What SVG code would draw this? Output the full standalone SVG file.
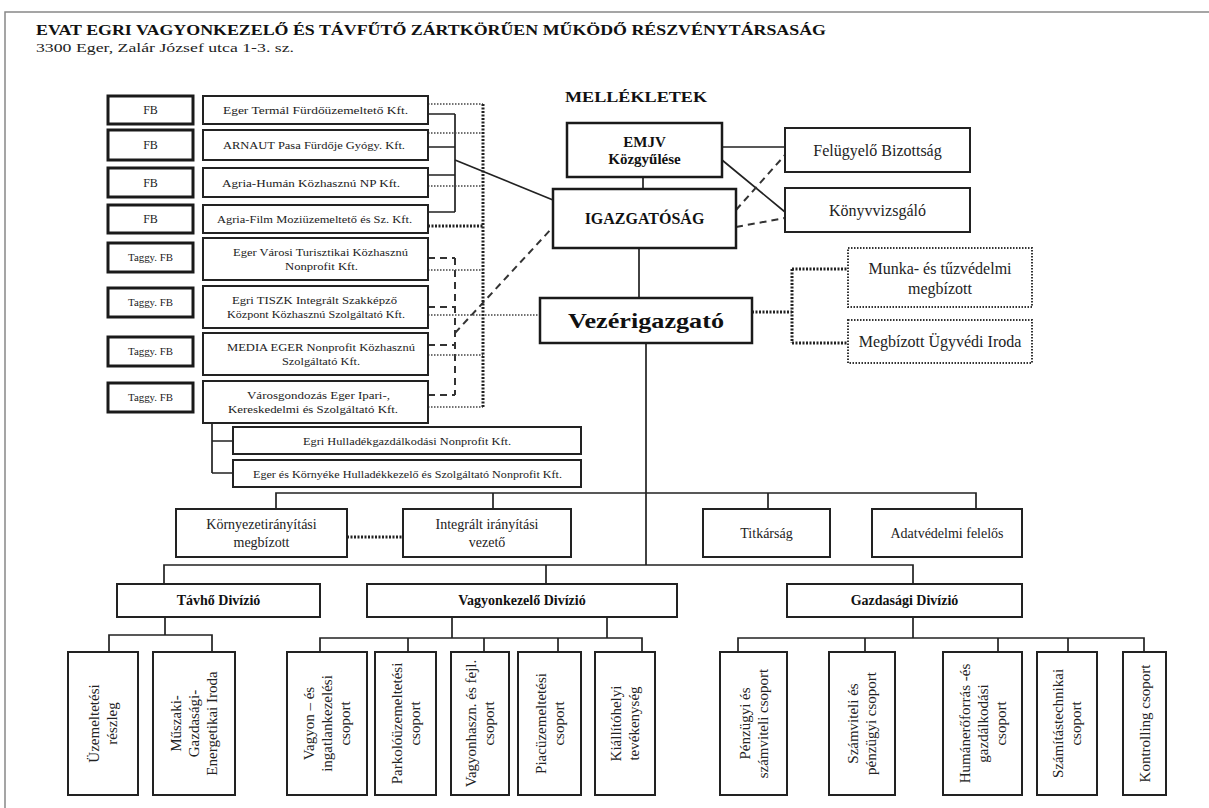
<svg xmlns="http://www.w3.org/2000/svg" width="1209" height="808" viewBox="0 0 1209 808">
<style>
.bg{fill:#fff}
.frame{stroke:#888;stroke-width:1.5;fill:none}
.box{fill:#fff;stroke:#222;stroke-width:2}
.bx3{fill:#fff;stroke:#1a1a1a;stroke-width:3}
.dbox{fill:#fff;stroke:#333;stroke-width:2;stroke-dasharray:1.5 1.5}
.t{font-family:"Liberation Serif","Times New Roman",serif;fill:#222;text-anchor:middle}
.tb{font-family:"Liberation Serif","Times New Roman",serif;fill:#111;text-anchor:middle;font-weight:bold}
.sm{font-size:11px}
.md{font-size:14px}
.lg{font-size:16px}
.v{font-size:15px}
.solid{stroke:#222;stroke-width:1.7;fill:none}
.dash{stroke:#333;stroke-width:2;stroke-dasharray:7 5;fill:none}
.dot{stroke:#444;stroke-width:1.5;stroke-dasharray:1.5 1.5;fill:none}
.dotb{stroke:#222;stroke-width:3;stroke-dasharray:2 1.5;fill:none}
</style>
<rect class="bg" x="0" y="0" width="1209" height="808"/>
<path class="frame" d="M5,808 V12 H1209"/>

<g id="header">
<text class="tb" x="36" y="35" style="text-anchor:start;font-size:14.5px" textLength="790" lengthAdjust="spacingAndGlyphs">EVAT EGRI VAGYONKEZELŐ ÉS TÁVFŰTŐ ZÁRTKÖRŰEN MŰKÖDŐ RÉSZVÉNYTÁRSASÁG</text>
<text class="t" x="36" y="52" style="text-anchor:start;font-size:13.5px" textLength="258" lengthAdjust="spacingAndGlyphs">3300 Eger, Zalár József utca 1-3. sz.</text>
<text class="tb" x="636" y="102" style="font-size:14px" textLength="142" lengthAdjust="spacingAndGlyphs">MELLÉKLETEK</text>
</g>

<g id="connectors">
<path class="solid" d="M428,114 H455 M428,147 H455 M428,175 H455 M428,212 H455 M455,114 V212"/>
<path class="solid" d="M455,160 L553,200"/>
<path class="solid" d="M643,177 V189 M639,248 V298 M646,343 V565"/>
<path class="solid" d="M722,147 H785 M722,160 L785,212"/>
<path class="solid" d="M212,423 V473 M212,441 H233 M212,473 H233"/>
<path class="solid" d="M276,509 V493 H976 V509 M493,493 V509 M768,493 V509"/>
<path class="solid" d="M164,584 V565 H913 V584 M546,565 V584"/>
<path class="solid" d="M165,617 V635 M109,652 V635 H212 V652"/>
<path class="solid" d="M452,617 V638 M607,617 V638 M320,652 V638 H642 V652 M408,638 V652 M484,638 V652 M558,638 V652"/>
<path class="solid" d="M913,617 V638 M738,652 V638 H1144 V652 M865,638 V652 M998,638 V652 M1068,638 V652"/>
<path class="dash" d="M428,258 H455 M428,307 H455 M428,345 H455 M428,395 H455 M455,258 V395"/>
<path class="dash" d="M455,333 L553,227"/>
<path class="dash" d="M736,210 L785,155 M736,227 L785,218"/>
<path class="dot" d="M428,104 H483 M428,133 H483 M428,186 H483 M428,270 H483 M428,315 H540 M428,355 H483 M428,407 H483"/>
<path class="dotb" d="M483,104 V408 M428,226 H483"/>
<path class="dotb" d="M752,312 H792 M792,269 V343 M792,269 H848 M792,343 H848"/>
<path class="dotb" d="M347,537 H403"/>
</g>

<g id="fb1"><rect class="bx3" x="108" y="96" width="85" height="28"/><text class="t" x="150.5" y="114" style="font-size:12px">FB</text></g>
<g id="fb2"><rect class="bx3" x="108" y="130" width="85" height="30"/><text class="t" x="150.5" y="149" style="font-size:12px">FB</text></g>
<g id="fb3"><rect class="bx3" x="108" y="168" width="85" height="29"/><text class="t" x="150.5" y="187" style="font-size:12px">FB</text></g>
<g id="fb4"><rect class="bx3" x="108" y="205" width="85" height="28"/><text class="t" x="150.5" y="223" style="font-size:12px">FB</text></g>
<g id="fb5"><rect class="bx3" x="108" y="243" width="85" height="29"/><text class="t" x="150.5" y="261" style="font-size:10px" textLength="45" lengthAdjust="spacingAndGlyphs">Taggy. FB</text></g>
<g id="fb6"><rect class="bx3" x="108" y="288" width="85" height="29"/><text class="t" x="150.5" y="306" style="font-size:10px" textLength="45" lengthAdjust="spacingAndGlyphs">Taggy. FB</text></g>
<g id="fb7"><rect class="bx3" x="108" y="337" width="85" height="29"/><text class="t" x="150.5" y="355" style="font-size:10px" textLength="45" lengthAdjust="spacingAndGlyphs">Taggy. FB</text></g>
<g id="fb8"><rect class="bx3" x="108" y="383" width="85" height="29"/><text class="t" x="150.5" y="401" style="font-size:10px" textLength="45" lengthAdjust="spacingAndGlyphs">Taggy. FB</text></g>

<g id="c1"><rect class="box" x="203" y="96" width="225" height="28"/><text class="t sm" x="315.5" y="114" textLength="185" lengthAdjust="spacingAndGlyphs">Eger Termál Fürdőüzemeltető Kft.</text></g>
<g id="c2"><rect class="box" x="203" y="130" width="225" height="30"/><text class="t sm" x="314" y="149" textLength="182" lengthAdjust="spacingAndGlyphs">ARNAUT Pasa Fürdője Gyógy. Kft.</text></g>
<g id="c3"><rect class="box" x="203" y="168" width="225" height="29"/><text class="t sm" x="311" y="187" textLength="178" lengthAdjust="spacingAndGlyphs">Agria-Humán Közhasznú NP Kft.</text></g>
<g id="c4"><rect class="box" x="203" y="205" width="225" height="28"/><text class="t sm" x="314.5" y="223" textLength="195" lengthAdjust="spacingAndGlyphs">Agria-Film Moziüzemeltető és Sz. Kft.</text></g>
<g id="c5"><rect class="box" x="203" y="238" width="225" height="42"/><text class="t sm" x="320.5" y="256" textLength="175" lengthAdjust="spacingAndGlyphs">Eger Városi Turisztikai Közhasznú</text><text class="t sm" x="321.5" y="270" textLength="73" lengthAdjust="spacingAndGlyphs">Nonprofit Kft.</text></g>
<g id="c6"><rect class="box" x="203" y="286" width="225" height="42"/><text class="t sm" x="314.5" y="304" textLength="165" lengthAdjust="spacingAndGlyphs">Egri TISZK Integrált Szakképző</text><text class="t sm" x="316" y="318" textLength="178" lengthAdjust="spacingAndGlyphs">Központ Közhasznú Szolgáltató Kft.</text></g>
<g id="c7"><rect class="box" x="203" y="333" width="225" height="42"/><text class="t sm" x="321" y="351" textLength="188" lengthAdjust="spacingAndGlyphs">MEDIA EGER Nonprofit Közhasznú</text><text class="t sm" x="321" y="365" textLength="78" lengthAdjust="spacingAndGlyphs">Szolgáltató Kft.</text></g>
<g id="c8"><rect class="box" x="203" y="381" width="225" height="42"/><text class="t sm" x="318.5" y="399" textLength="143" lengthAdjust="spacingAndGlyphs">Városgondozás Eger Ipari-,</text><text class="t sm" x="313" y="413" textLength="170" lengthAdjust="spacingAndGlyphs">Kereskedelmi és Szolgáltató Kft.</text></g>
<g id="c9"><rect class="box" x="233" y="427" width="348" height="27"/><text class="t sm" x="407" y="445" textLength="208" lengthAdjust="spacingAndGlyphs">Egri Hulladékgazdálkodási Nonprofit Kft.</text></g>
<g id="c10"><rect class="box" x="233" y="460" width="348" height="27"/><text class="t sm" x="407.5" y="478" textLength="309" lengthAdjust="spacingAndGlyphs">Eger és Környéke Hulladékkezelő és Szolgáltató Nonprofit Kft.</text></g>

<g id="emjv"><rect class="bx3" x="567" y="123" width="155" height="54" style="stroke-width:2.5"/><text class="tb" x="644.5" y="147" style="font-size:15px">EMJV</text><text class="tb" x="644.5" y="164" style="font-size:15px">Közgyűlése</text></g>
<g id="igazgatosag"><rect class="bx3" x="553" y="189" width="183" height="59" style="stroke-width:2.5"/><text class="tb" x="644.5" y="224" style="font-size:16px">IGAZGATÓSÁG</text></g>
<g id="vezerigazgato"><rect class="bx3" x="540" y="298" width="212" height="45" style="stroke-width:2.5"/><text class="tb" x="646" y="328" style="font-size:21px" textLength="156" lengthAdjust="spacingAndGlyphs">Vezérigazgató</text></g>
<g id="felugyelo"><rect class="box" x="785" y="128" width="185" height="44"/><text class="t lg" x="877.5" y="156">Felügyelő Bizottság</text></g>
<g id="konyvvizsgalo"><rect class="box" x="785" y="188" width="185" height="44"/><text class="t lg" x="877.5" y="216">Könyvvizsgáló</text></g>
<g id="munka"><rect class="dbox" x="848" y="248" width="184" height="59"/><text class="t lg" x="940" y="274">Munka- és tűzvédelmi</text><text class="t lg" x="940" y="294">megbízott</text></g>
<g id="ugyved"><rect class="dbox" x="848" y="320" width="184" height="43"/><text class="t lg" x="940" y="347">Megbízott Ügyvédi Iroda</text></g>

<g id="kornyezet"><rect class="box" x="176" y="509" width="171" height="48"/><text class="t md" x="261.5" y="529">Környezetirányítási</text><text class="t md" x="261.5" y="547">megbízott</text></g>
<g id="integralt"><rect class="box" x="403" y="509" width="168" height="48"/><text class="t md" x="487" y="529">Integrált irányítási</text><text class="t md" x="487" y="547">vezető</text></g>
<g id="titkarsag"><rect class="box" x="703" y="509" width="127" height="48"/><text class="t md" x="766.5" y="538">Titkárság</text></g>
<g id="adatvedelmi"><rect class="box" x="872" y="509" width="150" height="48"/><text class="t md" x="947" y="538">Adatvédelmi felelős</text></g>

<g id="tavho"><rect class="box" x="117" y="584" width="203" height="33"/><text class="tb md" x="218.5" y="605">Távhő Divízió</text></g>
<g id="vagyonkezelo"><rect class="box" x="367" y="584" width="310" height="33"/><text class="tb md" x="522" y="605">Vagyonkezelő Divízió</text></g>
<g id="gazdasagi"><rect class="box" x="787" y="584" width="235" height="33"/><text class="tb md" x="904.5" y="605">Gazdasági Divízió</text></g>

<g id="b1"><rect class="box" x="68" y="652" width="70" height="143"/><text class="t v" transform="translate(103,723.5) rotate(-90)"><tspan x="0" y="-4">Üzemeltetési</tspan><tspan x="0" y="14">részleg</tspan></text></g>
<g id="b2"><rect class="box" x="153" y="652" width="82" height="143"/><text class="t v" transform="translate(194,723.5) rotate(-90)"><tspan x="0" y="-13">Műszaki-</tspan><tspan x="0" y="5">Gazdasági-</tspan><tspan x="0" y="23">Energetikai Iroda</tspan></text></g>
<g id="b3"><rect class="box" x="287" y="652" width="80" height="143"/><text class="t v" transform="translate(327,723.5) rotate(-90)"><tspan x="0" y="-13">Vagyon – és</tspan><tspan x="0" y="5">ingatlankezelési</tspan><tspan x="0" y="23">csoport</tspan></text></g>
<g id="b4"><rect class="box" x="375" y="652" width="61" height="143"/><text class="t v" transform="translate(405.5,723.5) rotate(-90)"><tspan x="0" y="-4">Parkolóüzemeltetési</tspan><tspan x="0" y="14">csoport</tspan></text></g>
<g id="b5"><rect class="box" x="451" y="652" width="58" height="143"/><text class="t v" transform="translate(480,723.5) rotate(-90)"><tspan x="0" y="-4">Vagyonhaszn. és fejl.</tspan><tspan x="0" y="14">csoport</tspan></text></g>
<g id="b6"><rect class="box" x="518" y="652" width="63" height="143"/><text class="t v" transform="translate(549.5,723.5) rotate(-90)"><tspan x="0" y="-4">Piacüzemeltetési</tspan><tspan x="0" y="14">csoport</tspan></text></g>
<g id="b7"><rect class="box" x="595" y="652" width="60" height="143"/><text class="t v" transform="translate(625,723.5) rotate(-90)"><tspan x="0" y="-4">Kiállítóhelyi</tspan><tspan x="0" y="14">tevékenység</tspan></text></g>
<g id="b8"><rect class="box" x="720" y="652" width="67" height="143"/><text class="t v" transform="translate(753.5,723.5) rotate(-90)"><tspan x="0" y="-4">Pénzügyi és</tspan><tspan x="0" y="14">számviteli csoport</tspan></text></g>
<g id="b9"><rect class="box" x="829" y="652" width="66" height="143"/><text class="t v" transform="translate(862,723.5) rotate(-90)"><tspan x="0" y="-4">Számviteli és</tspan><tspan x="0" y="14">pénzügyi csoport</tspan></text></g>
<g id="b10"><rect class="box" x="943" y="652" width="79" height="143"/><text class="t v" transform="translate(982.5,723.5) rotate(-90)"><tspan x="0" y="-13">Humánerőforrás -és</tspan><tspan x="0" y="5">gazdálkodási</tspan><tspan x="0" y="23">csoport</tspan></text></g>
<g id="b11"><rect class="box" x="1037" y="652" width="60" height="143"/><text class="t v" transform="translate(1067,723.5) rotate(-90)"><tspan x="0" y="-4">Számítástechnikai</tspan><tspan x="0" y="14">csoport</tspan></text></g>
<g id="b12"><rect class="box" x="1123" y="652" width="43" height="143"/><text class="t v" transform="translate(1144.5,723.5) rotate(-90)"><tspan x="0" y="5">Kontrolling csoport</tspan></text></g>
</svg>
